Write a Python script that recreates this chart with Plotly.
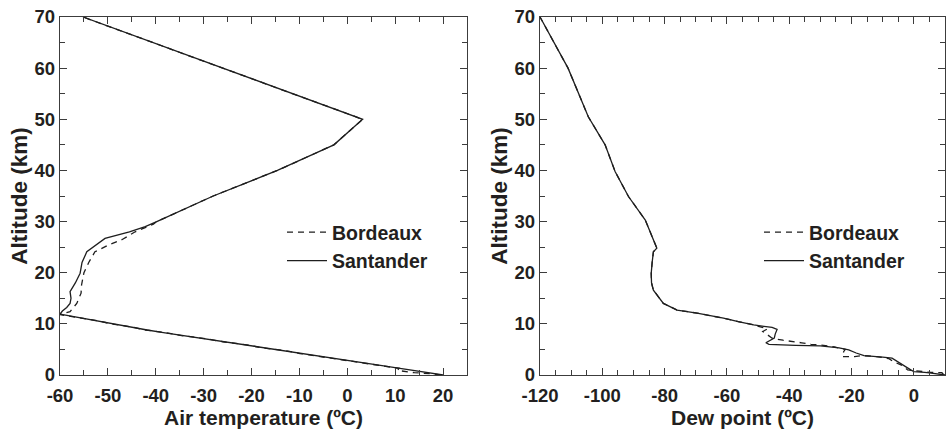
import plotly.graph_objects as go

# ---------------- data ----------------
# Air temperature profiles (altitude km, temperature degC), surface upward
alt_temp_santander = [0.0, 0.3, 0.65, 1.0, 1.3, 1.8, 2.3, 2.9, 3.6, 4.2, 4.75, 5.3, 5.9, 6.5,
                      7.1, 7.7, 8.3, 8.8, 9.4, 10.0, 10.6, 11.2, 11.9, 12.5, 13.2, 14.0, 15.0,
                      16.3, 18.0, 19.9, 22.0, 24.1, 25.0, 26.7, 28.0, 29.0, 30.0, 35.0, 40.0,
                      45.0, 50.0, 70.0]
temp_santander = [20.0, 18.1, 15.0, 13.2, 11.0, 7.6, 4.0, -0.2, -5.0, -9.4, -13.1, -17.2, -21.4,
                  -25.4, -29.9, -34.1, -38.4, -41.8, -45.3, -48.9, -52.4, -56.0, -60.0, -59.5,
                  -58.6, -57.9, -57.7, -57.9, -56.8, -55.8, -55.4, -54.4, -53.0, -50.6, -45.5,
                  -42.2, -39.8, -28.0, -14.6, -2.8, 3.2, -55.2]

alt_temp_bordeaux = [0.0, 0.25, 0.45, 0.9, 1.3, 1.8, 2.3, 2.9, 3.5, 4.2, 4.75, 5.3, 5.9, 6.5,
                     7.1, 7.7, 8.3, 8.8, 9.4, 10.0, 10.6, 11.2, 11.8, 12.4, 14.0, 16.0, 17.6,
                     20.0, 22.0, 24.1, 25.4, 26.5, 28.0, 29.5, 30.0, 35.0, 40.0, 45.0, 50.0, 70.0]
temp_bordeaux = [19.5, 17.5, 14.0, 10.5, 10.8, 7.2, 3.6, -0.7, -4.6, -9.9, -12.8, -17.7, -21.0,
                 -26.0, -29.5, -34.6, -38.0, -42.2, -45.0, -49.3, -52.1, -56.2, -60.0, -57.9,
                 -56.5, -55.6, -55.5, -55.0, -54.0, -52.7, -49.9, -47.0, -44.3, -40.5, -39.8,
                 -28.0, -14.6, -2.8, 3.2, -55.2]

# Dew point profiles (altitude km, dew point degC), surface upward
alt_dew_santander = [0.0, 0.05, 0.2, 0.4, 0.5, 0.65, 1.0, 1.6, 2.3, 2.7, 3.3, 3.5, 3.8, 4.3,
                     4.9, 5.3, 5.7, 5.8, 5.9, 6.0, 6.3, 6.8, 7.2, 8.0, 8.9, 9.3, 9.8, 10.4,
                     11.1, 12.1, 12.7, 14.0, 16.6, 18.0, 19.9, 22.0, 24.1, 24.8, 27.0, 30.3,
                     34.9, 39.8, 45.0, 50.5, 60.0, 70.0]
dew_santander = [10.0, 9.0, 7.0, 5.0, 3.5, 0.0, -1.0, -2.5, -4.2, -5.5, -7.0, -10.0, -16.0,
                 -18.5, -20.9, -24.0, -30.0, -38.0, -45.0, -46.5, -47.5, -46.0, -44.8, -44.5,
                 -43.9, -45.5, -51.4, -56.0, -61.1, -69.6, -76.0, -80.4, -83.6, -84.2, -84.3,
                 -84.0, -83.6, -82.5, -84.0, -86.2, -91.6, -95.9, -99.1, -104.5, -111.0, -120.0]

alt_dew_bordeaux = [0.1, 0.45, 0.5, 0.7, 1.0, 1.8, 2.6, 3.2, 3.6, 3.8, 3.6, 3.6, 4.6, 5.0,
                    5.5, 5.8, 6.0, 6.3, 6.5, 6.8, 7.0, 7.2, 8.1, 8.5, 9.0, 9.8, 10.4, 11.1,
                    12.1, 12.7, 14.0, 16.6, 18.0, 19.9, 22.0, 24.1, 24.8, 27.0, 30.3, 34.9,
                    39.8, 45.0, 50.5, 60.0, 70.0]
dew_bordeaux = [9.5, 9.0, 5.5, 2.0, -2.0, -3.5, -6.5, -8.0, -12.0, -16.5, -19.0, -23.0, -22.5,
                -22.0, -25.5, -29.0, -33.0, -36.0, -39.0, -42.0, -44.0, -45.5, -47.5, -48.5,
                -47.0, -51.4, -56.0, -61.1, -69.6, -76.0, -80.4, -83.6, -84.2, -84.3, -84.0,
                -83.6, -82.5, -84.0, -86.2, -91.6, -95.9, -99.1, -104.5, -111.0, -120.0]

temp_ticks = [-60, -50, -40, -30, -20, -10, 0, 10, 20]
temp_tick_labels = ["-60", "-50", "-40", "-30", "-20", "-10", "0", "10", "20"]
dew_ticks = [-120, -100, -80, -60, -40, -20, 0]
dew_tick_labels = ["-120", "-100", "-80", "-60", "-40", "-20", "0"]
alt_ticks = [0, 10, 20, 30, 40, 50, 60, 70]

# ---------------- styling ----------------
TXT = "#231f20"
AX = "#3c3c3c"
LINE = "#1e1e1e"
FONT = "Liberation Sans, Arial, sans-serif"
DASH = "6px,5px"

fig = go.Figure()

fig.add_trace(go.Scatter(x=temp_bordeaux, y=alt_temp_bordeaux, mode="lines", name="Bordeaux",
                         line=dict(color=LINE, width=1.3, dash=DASH), xaxis="x", yaxis="y",
                         legend="legend"))
fig.add_trace(go.Scatter(x=temp_santander, y=alt_temp_santander, mode="lines", name="Santander",
                         line=dict(color=LINE, width=1.3), xaxis="x", yaxis="y",
                         legend="legend"))
fig.add_trace(go.Scatter(x=dew_bordeaux, y=alt_dew_bordeaux, mode="lines", name="Bordeaux",
                         line=dict(color=LINE, width=1.3, dash=DASH), xaxis="x2", yaxis="y2",
                         legend="legend2"))
fig.add_trace(go.Scatter(x=dew_santander, y=alt_dew_santander, mode="lines", name="Santander",
                         line=dict(color=LINE, width=1.3), xaxis="x2", yaxis="y2",
                         legend="legend2"))

tickfont = dict(family=FONT, size=18.5, color=TXT, weight="bold")
xtitlefont = dict(family=FONT, size=21, color=TXT, weight="bold")
ytitlefont = dict(family=FONT, size=22.5, color=TXT, weight="bold")

def xaxis_common(rng, tv, tt, title):
    return dict(range=rng, tickvals=tv, ticktext=tt, ticks="inside", ticklen=7, tickwidth=1.2,
                tickcolor=AX, mirror="ticks", showline=True, linecolor=AX, linewidth=1.3,
                showgrid=False, zeroline=False, tickfont=tickfont, ticklabelstandoff=4,
                title=dict(text=title, font=xtitlefont, standoff=2),
                minor=dict(dtick=5, tick0=0, ticks="inside", ticklen=5, tickwidth=1.2,
                           tickcolor=AX, showgrid=False))

def yaxis_common():
    return dict(range=[0, 70], tickvals=alt_ticks, ticks="inside", ticklen=7, tickwidth=1.2,
                tickcolor=AX, mirror="ticks", showline=True, linecolor=AX, linewidth=1.3,
                showgrid=False, zeroline=False, tickfont=tickfont,
                title=dict(text="Altitude (km)", font=ytitlefont, standoff=0),
                minor=dict(dtick=5, tick0=0, ticks="inside", ticklen=5, tickwidth=1.2,
                           tickcolor=AX, showgrid=False))

W, H = 947, 430
ML, MR, MT, MB = 60, 2, 17, 55
PW = W - ML - MR

left_dom = [0.0, (467 - ML) / PW]
right_dom = [(540 - ML) / PW, 1.0]

xa1 = xaxis_common([-60, 25], temp_ticks, temp_tick_labels, "Air temperature (ºC)")
xa1.update(domain=left_dom, anchor="y")
xa2 = xaxis_common([-120, 10], dew_ticks, dew_tick_labels, "Dew point (ºC)")
xa2.update(domain=right_dom, anchor="y2")
ya1 = yaxis_common()
ya1.update(anchor="x", domain=[0, 1])
ya2 = yaxis_common()
ya2.update(anchor="x2", domain=[0, 1])

legfont = dict(family=FONT, size=19.5, color=TXT, weight="bold")
PH = H - MT - MB

def leg(xpx, ypx):
    return dict(x=(xpx - ML) / PW, y=(H - MB - ypx) / PH, xanchor="left", yanchor="top",
                font=legfont, bgcolor="rgba(0,0,0,0)", borderwidth=0,
                itemwidth=40, tracegroupgap=0, traceorder="normal")

fig.update_layout(
    width=W, height=H,
    margin=dict(l=ML, r=MR, t=MT, b=MB, autoexpand=False),
    paper_bgcolor="white", plot_bgcolor="white",
    xaxis=xa1, yaxis=ya1, xaxis2=xa2, yaxis2=ya2,
    legend=leg(282, 213),
    legend2=leg(759, 213),
    showlegend=True,
)

fig.write_html("out.html", config={"displayModeBar": False},
               post_script="document.body.style.margin='0';document.body.style.overflow='hidden';")
